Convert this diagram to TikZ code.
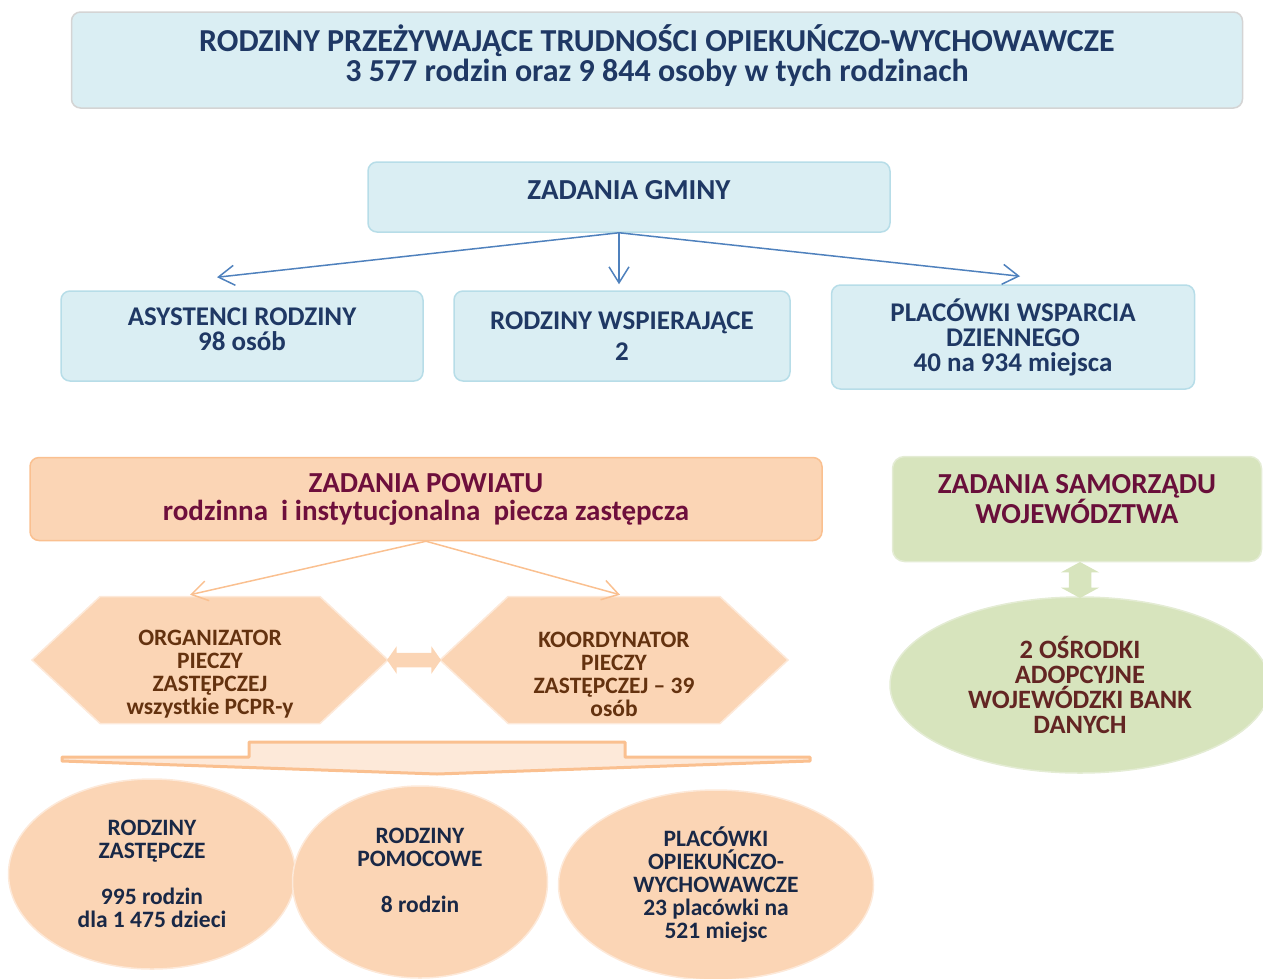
\documentclass[tikz,border=0pt]{standalone}
\usepackage{fontspec}
\setmainfont{Carlito}
\usepackage{xcolor}
\definecolor{GminaBlue}{RGB}{218,238,243}
\definecolor{GminaLine}{RGB}{183,221,232}
\definecolor{TopLine}{RGB}{212,212,212}
\definecolor{GminaText}{RGB}{31,56,100}
\definecolor{GminaArrow}{RGB}{79,129,189}
\definecolor{PowiatFill}{RGB}{251,213,181}
\definecolor{PowiatLine}{RGB}{250,192,144}
\definecolor{PowiatLight}{RGB}{253,233,217}
\definecolor{PowiatText}{RGB}{110,15,60}
\definecolor{HexText}{RGB}{100,50,15}
\definecolor{EllText}{RGB}{25,40,70}
\definecolor{WojFill}{RGB}{215,228,189}
\definecolor{WojLine}{RGB}{228,236,212}
\definecolor{WojText}{RGB}{105,15,58}
\definecolor{WojEllText}{RGB}{99,37,35}
\usepackage{tikz}
\usetikzlibrary{arrows.meta,shapes.geometric,shapes.symbols,shapes.arrows}

\begin{document}
\begin{tikzpicture}[x=1pt,y=-1pt,>={Straight Barb[length=16pt,width=20pt]},
                    line width=1.5pt]
  \tikzstyle{bluebox}=[rectangle,rounded corners=9pt,fill=GminaBlue,draw=GminaLine,
                       text=GminaText,align=center,font=\bfseries\fontsize{27}{25}\selectfont]
  \tikzstyle{peachhex}=[signal,signal to=east and west,signal pointer angle=86,
                        fill=PowiatFill,draw=PowiatLight,minimum height=127pt]
  \tikzstyle{hextext}=[text=HexText,align=center,yshift=-14pt,
                       font=\bfseries\fontsize{23.5}{23}\selectfont]
  \tikzstyle{peachell}=[ellipse,fill=PowiatFill,draw=PowiatLight,text=EllText,align=center,
                        font=\bfseries\fontsize{23.5}{23}\selectfont]
  \useasboundingbox (0,0) rectangle (1263,978);

  % gmina
  \node[bluebox,draw=TopLine,minimum width=1171pt,minimum height=96pt,
        font=\bfseries\fontsize{32}{30}\selectfont] (rodziny) at (657,60)
        {RODZINY PRZEŻYWAJĄCE TRUDNOŚCI OPIEKUŃCZO-WYCHOWAWCZE\\3 577 rodzin oraz 9 844 osoby w tych rodzinach\\[-16pt]\mbox{}};
  \node[bluebox,minimum width=522pt,minimum height=70pt,text depth=14pt,
        font=\bfseries\fontsize{29}{28}\selectfont] (gmina) at (629,197) {ZADANIA GMINY};
  \node[bluebox,minimum width=362pt,minimum height=90pt] (asyst) at (242,336)
        {ASYSTENCI RODZINY\\98 osób\\[-12pt]\mbox{}};
  \node[bluebox,minimum width=336pt,minimum height=90pt] (wspier) at (622,336)
        {RODZINY WSPIERAJĄCE\\[6pt]2};
  \node[bluebox,minimum width=363pt,minimum height=104pt] (wsparcie) at (1013,337)
        {PLACÓWKI WSPARCIA\\DZIENNEGO\\40 na 934 miejsca};

  \coordinate (gsplit) at ([xshift=-10pt]gmina.south);
  \path[->,GminaArrow]
        (gsplit) edge ([xshift=-25pt,yshift=13pt]asyst.north)
        (gsplit) edge ([xshift=-3pt,yshift=6pt]wspier.north)
        (gsplit) edge ([xshift=7pt,yshift=8pt]wsparcie.north);

  % powiat
  \node[rectangle,rounded corners=9pt,fill=PowiatFill,draw=PowiatLine,text=PowiatText,
        align=center,minimum width=792pt,minimum height=83pt,
        font=\bfseries\fontsize{29}{28}\selectfont] (powiat) at (426,499)
        {ZADANIA POWIATU\\rodzinna\ \ i instytucjonalna\ \ piecza zastępcza};
  \node[peachhex,minimum width=356pt,
        label={[hextext]center:ORGANIZATOR\\PIECZY\\ZASTĘPCZEJ\\wszystkie PCPR-y}]
        (organizator) at (210,660) {};
  \node[peachhex,minimum width=348pt,
        label={[hextext]center:KOORDYNATOR\\PIECZY\\ZASTĘPCZEJ -- 39\\osób}]
        (koordynator) at (614,660) {};
  \node[double arrow,fill=PowiatFill,inner sep=6.5pt,double arrow head extend=6.5pt,
        double arrow tip angle=110,minimum height=54pt] (wymiana) at (414,660) {};

  \path[->,PowiatLine]
        (powiat.south) edge ([xshift=-20pt,yshift=1pt]organizator.north)
        (powiat.south) edge ([xshift=6pt,yshift=1pt]koordynator.north);

  \draw[fill=PowiatLight,draw=PowiatLine,line width=3pt,line join=round]
        (249,742) -- (625,742) -- (625,757) -- (810,757) -- (810,761) -- (437,774)
        -- (62,761) -- (62,757) -- (249,757) -- cycle;

  \node[peachell,minimum width=287pt,minimum height=190pt] (zastepcze) at (152,874)
        {RODZINY\\ZASTĘPCZE\\[23pt]995 rodzin\\dla 1 475 dzieci};
  \node[peachell,minimum width=255pt,minimum height=192pt] (pomocowe) at (420,882)
        {RODZINY\\POMOCOWE\\[23pt]8 rodzin\\\mbox{}};
  \node[peachell,minimum width=315pt,minimum height=190pt] (placowki) at (716,885)
        {PLACÓWKI\\OPIEKUŃCZO-\\WYCHOWAWCZE\\23 placówki na\\521 miejsc};

  % samorzad wojewodztwa
  \node[rectangle,rounded corners=12pt,fill=WojFill,draw=WojLine,text=WojText,align=center,
        minimum width=369pt,minimum height=105pt,
        font=\bfseries\fontsize{29}{28}\selectfont] (woj) at (1077,509)
        {ZADANIA SAMORZĄDU\\WOJEWÓDZTWA\\[-8pt]\mbox{}};
  \node[ellipse,fill=WojFill,draw=WojLine,text=WojEllText,align=center,
        minimum width=380pt,minimum height=176pt,
        font=\bfseries\fontsize{26.5}{25}\selectfont] (osrodki) at (1080,685)
        {2 OŚRODKI\\ADOPCYJNE\\WOJEWÓDZKI BANK\\DANYCH};
  \node[double arrow,shape border rotate=90,fill=WojFill,inner sep=10.5pt,
        double arrow head extend=8pt,double arrow tip angle=123,
        minimum height=36pt] (wojlink) at (1080,580) {};
\end{tikzpicture}
\end{document}
